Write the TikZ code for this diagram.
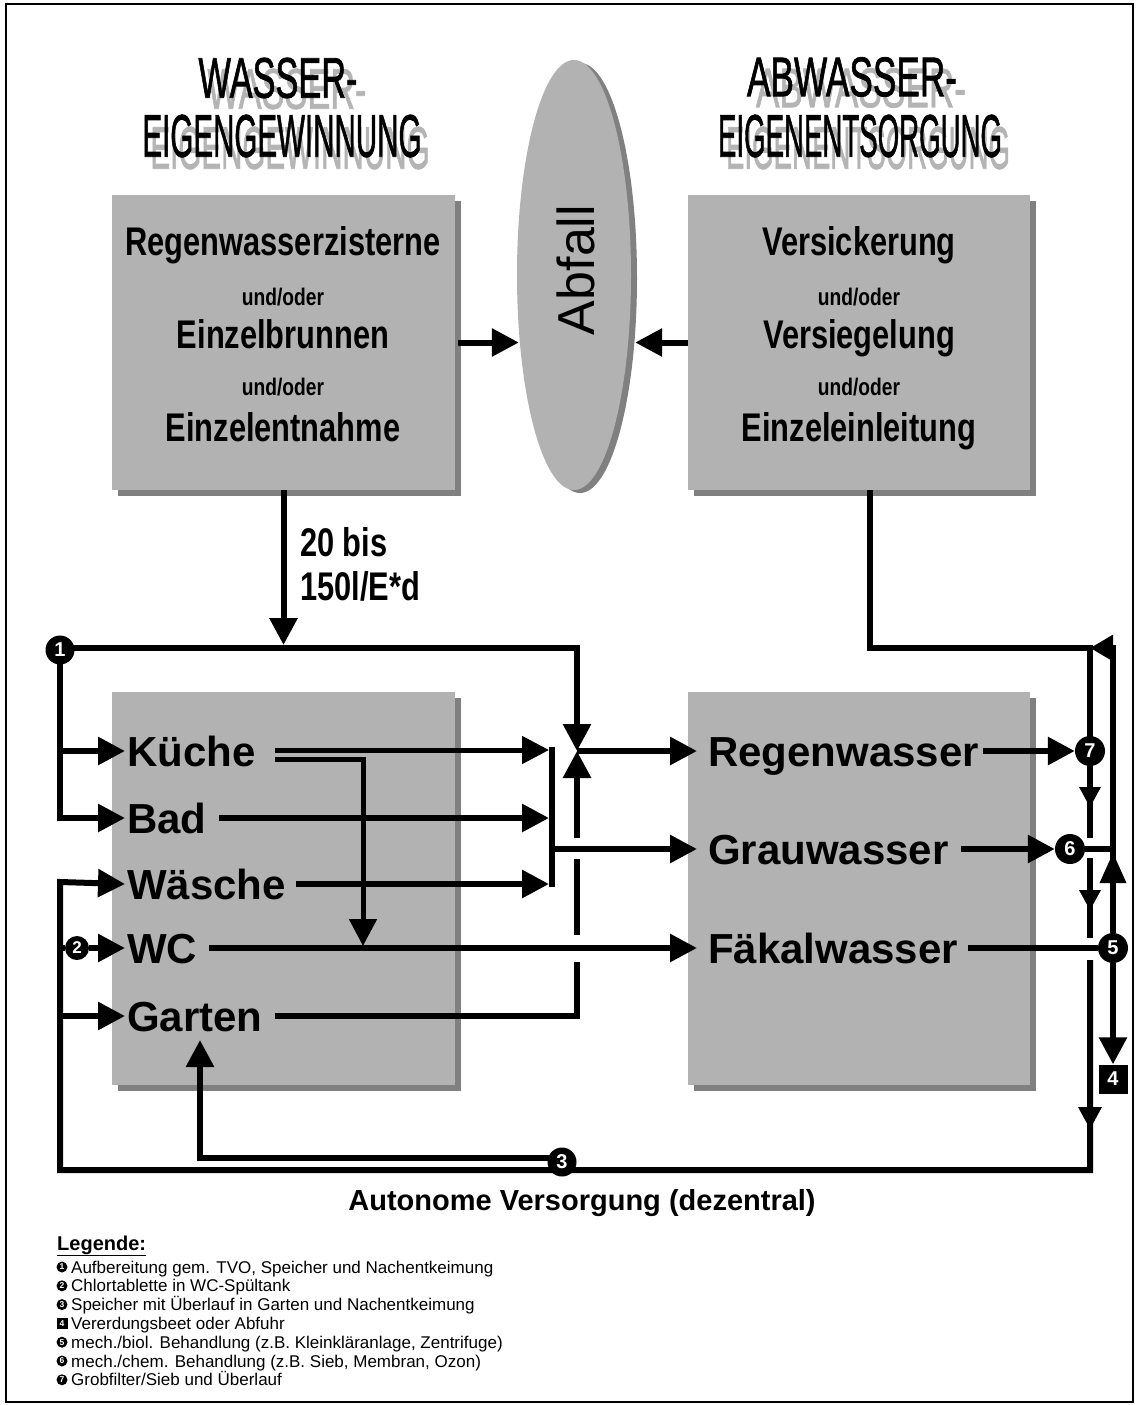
\documentclass[tikz,border=0pt]{standalone}
\usepackage{fontspec}
\setmainfont{Liberation Sans}
\newfontfamily\wordart[FakeBold=1.5]{Liberation Sans}
\usepackage{graphicx}
\usetikzlibrary{arrows.meta,shapes.geometric,shadows}
\definecolor{boxgray}{HTML}{B2B2B2}
\definecolor{shgray}{HTML}{808080}
\definecolor{tshadow}{HTML}{B4B4B4}
\pgfdeclarelayer{back}\pgfdeclarelayer{mid}\pgfsetlayers{back,mid,main}
\newcommand\cnd[1]{\scalebox{0.77}[1]{#1}}
\newcommand\cnds[1]{\scalebox{0.8}[1]{#1}}
\begin{document}
\begin{tikzpicture}[x=1pt,y=-1pt,
  ln/.style={line width=6pt},
  lnt/.style={line width=5pt},
  arr/.style={-{Triangle[length=27pt,width=27pt]}},
  sarr/.style={-{Triangle[length=23pt,width=25pt]}},
  gbox/.style={rectangle, fill=boxgray, inner sep=0pt,
    drop shadow={shadow xshift=6pt,shadow yshift=-6pt,fill=shgray,opacity=1}},
  num/.style={circle, fill=black, inner sep=0pt, minimum size=29pt, text=white,
    font=\fontsize{20}{20}\selectfont\bfseries},
  bt/.style={anchor=base, inner sep=0pt, font=\fontsize{40}{40}\selectfont\bfseries},
  st/.style={anchor=base, inner sep=0pt, font=\fontsize{24}{24}\selectfont\bfseries},
  lt/.style={anchor=base west, inner sep=0pt, font=\fontsize{42}{42}\selectfont\bfseries},
  leg/.style={anchor=base west, inner sep=0pt, font=\fontsize{17}{17}\selectfont},
  lnum/.style={circle, fill=black, inner sep=0pt, minimum size=11pt, text=white,
    font=\fontsize{8.5}{8.5}\selectfont\bfseries},
  tsh/.style={inner sep=0pt, text=tshadow, font=\wordart},
  ttl/.style={inner sep=0pt, text=black, font=\wordart},
  tri/.style={fill=black}
]
\useasboundingbox (0,0) rectangle (1135,1405);

\begin{pgfonlayer}{back}
\draw[line width=2pt] (6,4) rectangle (1133,1402);
\node[gbox, minimum width=343pt, minimum height=295pt] (tl) at (283.5,342.5) {};
\node[gbox, minimum width=342pt, minimum height=295pt] (tr) at (859,342.5) {};
\node[gbox, minimum width=343pt, minimum height=393pt] (bl) at (283.5,888.5) {};
\node[gbox, minimum width=342pt, minimum height=393pt] (br) at (859,888.5) {};
\node[ellipse, fill=boxgray, minimum width=114pt, minimum height=430pt, inner sep=0pt,
  drop shadow={shadow xshift=6pt,shadow yshift=-3pt,fill=shgray,opacity=1}] (abf) at (574,275) {};
\end{pgfonlayer}

% titles
\node[tsh] (t1s) at (287,89) {\resizebox{159pt}{40pt}{WASSER-}};
\node[ttl] (t1) at (278,78) {\resizebox{159pt}{40pt}{WASSER-}};
\node[tsh] (t2s) at (290,148) {\resizebox{279pt}{42pt}{EIGENGEWINNUNG}};
\node[ttl] (t2) at (282,136) {\resizebox{279pt}{42pt}{EIGENGEWINNUNG}};
\node[tsh] (t3s) at (861,88) {\resizebox{210pt}{39pt}{ABWASSER-}};
\node[ttl] (t3) at (852,77) {\resizebox{210pt}{39pt}{ABWASSER-}};
\node[tsh] (t4s) at (868,148) {\resizebox{284pt}{42pt}{EIGENENTSORGUNG}};
\node[ttl] (t4) at (860,136) {\resizebox{284pt}{42pt}{EIGENENTSORGUNG}};

% top box texts
\node[bt] (tl1) at (283,255) {\cnd{Regenwasserzisterne}};
\node[st] (tl2) at (283,305) {\cnds{und/oder}};
\node[bt] (tl3) at (283,348) {\cnd{Einzelbrunnen}};
\node[st] (tl4) at (283,395) {\cnds{und/oder}};
\node[bt] (tl5) at (283,441) {\cnd{Einzelentnahme}};
\node[bt] (tr1) at (859,255) {\cnd{Versickerung}};
\node[st] (tr2) at (859,305) {\cnds{und/oder}};
\node[bt] (tr3) at (859,348) {\cnd{Versiegelung}};
\node[st] (tr4) at (859,395) {\cnds{und/oder}};
\node[bt] (tr5) at (859,441) {\cnd{Einzeleinleitung}};
\node[rotate=90, inner sep=0pt, font=\fontsize{52}{52}\selectfont] (abft) at (576,270) {Abfall};

\node[bt, anchor=base west] (lab1) at (300,556) {\cnd{20 bis}};
\node[bt, anchor=base west] (lab2) at (300,600) {\cnd{150l/E*d}};

% lower texts
\node[lt] (kue) at (127,766) {Küche};
\node[lt] (bad) at (127,833) {Bad};
\node[lt] (wae) at (127,899) {Wäsche};
\node[lt] (wc) at (127,963) {WC};
\node[lt] (gar) at (127,1031) {Garten};
\node[lt] (rw) at (708,766) {Regenwasser};
\node[lt] (gw) at (708,864) {Grauwasser};
\node[lt] (fw) at (708,963) {Fäkalwasser};

% numbered markers
\node[num] (c1) at (60,650) {1};
\node[num, minimum size=24pt, font=\fontsize{17}{17}\selectfont\bfseries] (c2) at (77,948) {2};
\node[num] (c3) at (562,1162) {3};
\node[num, minimum size=30pt] (c5) at (1113,948) {5};
\node[num, minimum size=30pt] (c6) at (1070,849) {6};
\node[num, minimum size=30pt] (c7) at (1090,751) {7};
\node[fill=black, text=white, minimum size=29pt, inner sep=0pt,
  font=\fontsize{20}{20}\selectfont\bfseries] (b4) at (1113,1079) {4};

\coordinate (p1) at (60,648);
\coordinate (j1) at (577,648);
\coordinate (j2) at (577,751);
\coordinate (r0) at (870,648);
\coordinate (r1) at (1090,648);

\begin{pgfonlayer}{mid}
% top arrows
\draw[ln,arr] ([xshift=3pt]tl.east) -- ([xshift=2pt]tl.east -| abf.west);
\draw[ln,arr] (tr.west) -- ([xshift=4pt]tr.west -| abf.east);
\draw[ln,arr] (tl.south) -- ([yshift=3pt]tl.south |- j1);
% supply line from 1
\draw[ln,arr] (p1) -- (j1) -- (j2);
\draw[ln,arr] (p1) -- (60,818) -- ([shift={(-2,-15)}]bad.base west);
\draw[ln,arr] (60,751) -- ([shift={(-2,-15)}]kue.base west);
% collection
\draw[lnt,arr] (275,750) -- (549,750);
\draw[lnt,arr] (275,759) -- (363,759) -- (363,946);
\draw[ln,arr] ([shift={(12,-15)}]bad.base east) -- (549,818);
\draw[ln,arr] ([shift={(10,-15)}]wae.base east) -- (549,884);
\draw[ln] (552,747) -- (552,887);
\draw[ln,arr] (552,849) -- ([shift={(-11,-15)}]gw.base west);
\draw[ln,arr] (j2) -- ([shift={(-11,-15)}]rw.base west);
\draw[ln,arr] ([shift={(12,-15)}]wc.base east) -- ([shift={(-11,-15)}]fw.base west);
\draw[ln] ([shift={(12,-15)}]gar.base east) -- (577,1016) -- (577,962);
\draw[ln] (577,935) -- (577,859);
\draw[ln,arr] (577,838) -- (j2);
% right side
\draw[ln] (tr.south -| r0) -- (r0) -- (r1) -- (1090,838);
\draw[ln] (1090,858) -- (1090,938);
\draw[ln,arr] (1090,960) -- (1090,1170) -- (60,1170) -- (60,882) -- ([shift={(-2,-15)}]wae.base west);
\draw[ln] (60,948) -- (c2);
\draw[ln,arr] (c2) -- ([shift={(-2,-15)}]wc.base west);
\draw[ln,arr] (60,1016) -- ([shift={(-2,-15)}]gar.base west);
\draw[ln,arr] ([yshift=4pt]c3.center) -- (200,1158) -- (200,1040);
\draw[ln,arr] ([shift={(4,-15)}]rw.base east) -- (c7);
\draw[ln,arr] ([shift={(12,-15)}]gw.base east) -- (c6);
\draw[ln] ([shift={(10,-15)}]fw.base east) -- (c5);
\draw[ln] (c6) -- (1113,849);
\draw[ln,sarr] (c5) -- (1113,648) -- (r1);
\draw[ln,arr] (c5) -- (b4);
\end{pgfonlayer}

% mid-line arrowheads
\fill[tri] (1079,787) -- (1101,787) -- (1090,807) -- cycle;
\fill[tri] (1079,890) -- (1101,890) -- (1090,910) -- cycle;
\fill[tri] (1078,1107) -- (1102,1107) -- (1090,1129) -- cycle;
\fill[tri] (1099.5,883) -- (1126.5,883) -- (1113,853) -- cycle;

% caption
\node[anchor=base, inner sep=0pt, font=\fontsize{29}{29}\selectfont\bfseries] (cap) at (582,1210) {Autonome Versorgung (dezentral)};

% legend
\node[anchor=base west, inner sep=0pt, font=\fontsize{20}{20}\selectfont\bfseries] (lg) at (57,1250) {\underline{Legende:}};
\node[lnum] (m1) at (62,1267) {1};
\node[leg] (l1) at (71,1273) {Aufbereitung gem. TVO, Speicher und Nachentkeimung};
\node[lnum] (m2) at (62,1285.8) {2};
\node[leg] (l2) at (71,1291.8) {Chlortablette in WC-Spültank};
\node[lnum] (m3) at (62,1304.6) {3};
\node[leg] (l3) at (71,1310.6) {Speicher mit Überlauf in Garten und Nachentkeimung};
\node[fill=black, text=white, minimum size=11pt, inner sep=0pt,
  font=\fontsize{8.5}{8.5}\selectfont\bfseries] (m4) at (62,1323.4) {4};
\node[leg] (l4) at (71,1329.4) {Vererdungsbeet oder Abfuhr};
\node[lnum] (m5) at (62,1342.2) {5};
\node[leg] (l5) at (71,1348.2) {mech./biol. Behandlung (z.B. Kleinkläranlage, Zentrifuge)};
\node[lnum] (m6) at (62,1361) {6};
\node[leg] (l6) at (71,1367) {mech./chem. Behandlung (z.B. Sieb, Membran, Ozon)};
\node[lnum] (m7) at (62,1379.8) {7};
\node[leg] (l7) at (71,1385.8) {Grobfilter/Sieb und Überlauf};
\end{tikzpicture}
\end{document}
